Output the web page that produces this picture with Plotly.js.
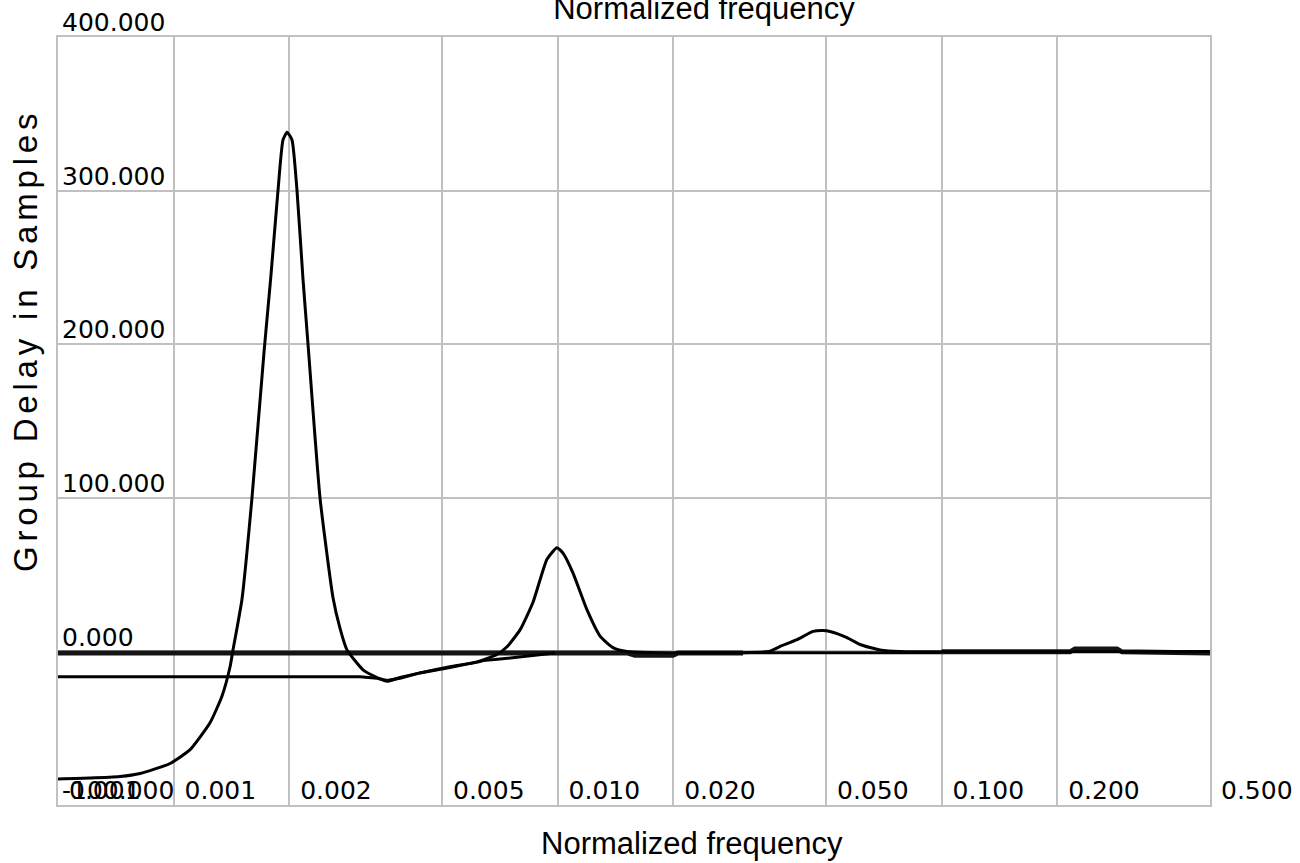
<!DOCTYPE html>
<html>
<head>
<meta charset="utf-8">
<script src="https://cdn.plot.ly/plotly-3.0.1.min.js"></script>
<style>html,body{margin:0;padding:0;background:#fff;}#chart{width:1300px;height:863px;}</style>
</head>
<body>
<div id="chart"></div>
<script>
// Tick values / labels
var xTickVals = [0.0005, 0.001, 0.002, 0.005, 0.01, 0.02, 0.05, 0.1, 0.2, 0.5];
var xTickText = ["0.001", "0.001", "0.002", "0.005", "0.010", "0.020", "0.050", "0.100", "0.200", "0.500"];
var yTickVals = [-100, 0, 100, 200, 300, 400];
var yTickText = ["-100.000", "0.000", "100.000", "200.000", "300.000", "400.000"];

// Main group-delay curve
var mainFreq = [0.0005, 0.000606, 0.000725, 0.000818, 0.000979, 0.001104, 0.001244, 0.001337, 0.001403, 0.001428,
  0.001507, 0.0016, 0.00172, 0.001793, 0.00187, 0.001927, 0.001975, 0.002034, 0.002096, 0.002173,
  0.002239, 0.002406, 0.002601, 0.002713, 0.002828, 0.003114, 0.003386, 0.003596, 0.003888, 0.004382,
  0.005245, 0.00617, 0.006953, 0.007383, 0.007983, 0.00863, 0.009384, 0.009964, 0.01033, 0.01097,
  0.01193, 0.0129, 0.01394, 0.01516, 0.0355, 0.0378, 0.04203, 0.04625, 0.04911, 0.0512,
  0.0567, 0.0613, 0.0651, 0.0691, 0.0779, 0.5];
var mainDelay = [-83, -82.5, -81.5, -79.5, -73, -64, -46.5, -29, -10, 1,
  34, 100, 195, 245, 300, 333, 338, 333, 300, 242,
  200, 100, 35, 15, 1, -12, -17, -19.5, -17, -14,
  -10, -7, -2, 3, 14, 32, 60, 67.5, 64, 51,
  27, 10, 2.5, 0, 0, 3, 7.7, 13, 13.6, 13,
  9, 4.5, 2.5, 1, 0, 0];

// Low-frequency offset curve
var lowFreq = [0.0005, 0.003058, 0.003386, 0.003596, 0.003888, 0.004382, 0.005245, 0.005915, 0.006397, 0.00708, 0.00813, 0.008996, 0.009846];
var lowDelay = [-16.5, -16.5, -17.5, -19, -17.5, -14, -10.5, -8, -6, -5, -3.5, -2, -1];

// Flat (near-zero) curves
var flatAFreq = [0.0005, 0.01516, 0.0159, 0.01998, 0.02059, 0.0304];
var flatADelay = [-1, -1, -2.5, -2.5, -1, -1];
var flatBFreq = [0.0304, 0.1];
var flatBDelay = [-0.8, -0.8];
var flatCFreq = [0.1, 0.2159, 0.2224, 0.2863, 0.295, 0.3427, 0.35, 0.5];
var flatCDelay = [-0.3, -0.3, 1.5, 1.5, -0.3, -0.3, -1, -1];

var traces = [
  {x: flatAFreq, y: flatADelay, mode: 'lines', line: {color: '#141414', width: 5}, hoverinfo: 'skip'},
  {x: flatBFreq, y: flatBDelay, mode: 'lines', line: {color: '#000', width: 3}, hoverinfo: 'skip'},
  {x: flatCFreq, y: flatCDelay, mode: 'lines', line: {color: '#141414', width: 5}, hoverinfo: 'skip'},
  {x: lowFreq, y: lowDelay, mode: 'lines', line: {color: '#000', width: 3}},
  {x: mainFreq, y: mainDelay, mode: 'lines', line: {color: '#000', width: 3, shape: 'spline', smoothing: 0.5}}
];

var gridCol = '#c0c0c0';
var titleFont = {family: 'Liberation Sans, Arial, sans-serif', size: 31, color: '#000'};
var layout = {
  width: 1300, height: 863,
  margin: {l: 58, r: 90, t: 37, b: 58},
  paper_bgcolor: '#fff', plot_bgcolor: '#fff',
  showlegend: false,
  title: {text: 'Normalized frequency', x: 704 / 1300, xanchor: 'center', xref: 'container',
    y: 1 - 8 / 863, yanchor: 'middle', yref: 'container', font: titleFont},
  xaxis: {
    type: 'log', range: [Math.log10(0.0005), Math.log10(0.5)],
    tickvals: xTickVals, ticktext: xTickText, ticks: '',
    ticklabelposition: 'inside right', ticklabeloverflow: 'allow', ticklabelshift: 10,
    tickfont: {family: 'DejaVu Sans, sans-serif', size: 25, color: '#000'},
    showgrid: true, gridcolor: gridCol, gridwidth: 2,
    showline: true, linecolor: gridCol, linewidth: 2, mirror: true, zeroline: false
  },
  yaxis: {
    range: [-100, 400],
    tickvals: yTickVals, ticktext: yTickText, ticks: '',
    ticklabelposition: 'inside top', ticklabeloverflow: 'allow', ticklabelstandoff: 5, ticklabelshift: 3,
    tickfont: {family: 'DejaVu Sans, sans-serif', size: 25, color: '#000'},
    showgrid: true, gridcolor: gridCol, gridwidth: 2,
    showline: true, linecolor: gridCol, linewidth: 2, mirror: true, zeroline: false
  },
  annotations: [
    {text: 'Normalized frequency', xref: 'paper', yref: 'paper', x: (692 - 58) / 1152, y: (805 - 843) / 768,
      xanchor: 'center', yanchor: 'middle', showarrow: false, font: titleFont},
    {text: '<span style="letter-spacing:4.8px">Group Delay in Samples</span>', xref: 'paper', yref: 'paper',
      x: (25 - 58) / 1152, y: (805 - 341) / 768,
      xanchor: 'center', yanchor: 'middle', textangle: -90, showarrow: false,
      font: {family: 'Liberation Sans, Arial, sans-serif', size: 33, color: '#000'}}
  ]
};

Plotly.newPlot('chart', traces, layout, {displayModeBar: false, staticPlot: true});
</script>
</body>
</html>
